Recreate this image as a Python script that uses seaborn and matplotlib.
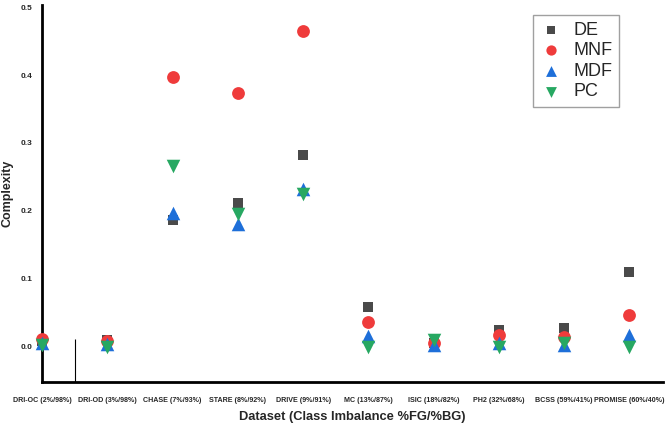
import numpy as np
import pandas as pd
import matplotlib
matplotlib.use("Agg")
import matplotlib.pyplot as plt
import seaborn as sns

# Dati
datasets = ["DRI-OC (2%/98%)", "DRI-OD (3%/98%)", "CHASE (7%/93%)", "STARE (8%/92%)",
            "DRIVE (9%/91%)", "MC (13%/87%)", "ISIC (18%/82%)", "PH2 (32%/68%)",
            "BCSS (59%/41%)", "PROMISE (60%/40%)"]
de = [0.008, 0.010, 0.186, 0.211, 0.283, 0.058, 0.005, 0.024, 0.027, 0.110]
mnf = [0.011, 0.008, 0.397, 0.374, 0.465, 0.036, 0.006, 0.017, 0.015, 0.046]
mdf = [0.006, 0.004, 0.197, 0.181, 0.232, 0.016, 0.002, 0.006, 0.002, 0.017]
pc = [0.002, 0.000, 0.266, 0.196, 0.225, 0.000, 0.010, 0.000, 0.006, 0.000]

measures = ["DE", "MNF", "MDF", "PC"]
colors = {"DE": "#4a4a4a", "MNF": "#ef3b3b", "MDF": "#1e6fd9", "PC": "#27a862"}
markers = {"DE": "s", "MNF": "o", "MDF": "^", "PC": "v"}
sizes = {"DE": 60, "MNF": 85, "MDF": 95, "PC": 95}

df = pd.DataFrame({
    "Dataset": datasets * 4,
    "Complexity": de + mnf + mdf + pc,
    "Misura": np.repeat(measures, len(datasets)),
})

sns.set_style("white")
plt.rcParams["font.family"] = ["Liberation Sans", "DejaVu Sans"]

fig = plt.figure(figsize=(6.68, 4.24), dpi=100)
ax = fig.add_axes([0.063, 0.099, 0.93, 0.889])

for m in measures:
    sub = df[df["Misura"] == m]
    sns.scatterplot(data=sub, x="Dataset", y="Complexity", color=colors[m],
                    marker=markers[m], s=sizes[m], linewidth=0, label=m,
                    ax=ax, clip_on=False, zorder=3)

ax.set_xlim(0, 9.52)
ax.set_ylim(-0.052, 0.503)
ax.set_yticks([0.0, 0.1, 0.2, 0.3, 0.4, 0.5])
ax.set_yticklabels(["0.0", "0.1", "0.2", "0.3", "0.4", "0.5"], fontsize=6, fontweight="bold")
ax.tick_params(axis="y", length=0, pad=7)

# etichette centrate sulle categorie, tacche tra le categorie
ax.set_xticks(range(len(datasets)))
ax.set_xticklabels(datasets, fontsize=5.1, fontweight="bold")
ax.tick_params(axis="x", length=0, pad=11)
ax.set_xticks(np.arange(0.5, 9.5, 1), minor=True)
ax.tick_params(axis="x", which="minor", length=4, width=1.5, direction="in", color="black")
ax.vlines(0.5, -0.052, 0.012, color="black", linewidth=0.8)

for side in ["top", "right"]:
    ax.spines[side].set_visible(False)
for side in ["left", "bottom"]:
    ax.spines[side].set_color("black")
    ax.spines[side].set_linewidth(2)

ax.set_xlabel("Dataset (Class Imbalance %FG/%BG)", fontsize=9.3, fontweight="bold", labelpad=5)
ax.set_ylabel("Complexity", fontsize=9, fontweight="bold")
ax.yaxis.set_label_coords(-0.046, 0.5)

leg = ax.legend(loc="upper right", bbox_to_anchor=(0.928, 0.973), borderaxespad=0,
                fontsize=13, frameon=True, fancybox=False, edgecolor="#888888",
                markerscale=0.8, handlelength=1.4, handletextpad=0.5,
                borderpad=0.35, labelspacing=0.2)
leg.get_frame().set_linewidth(1)

fig.savefig("out.png", dpi=100)
